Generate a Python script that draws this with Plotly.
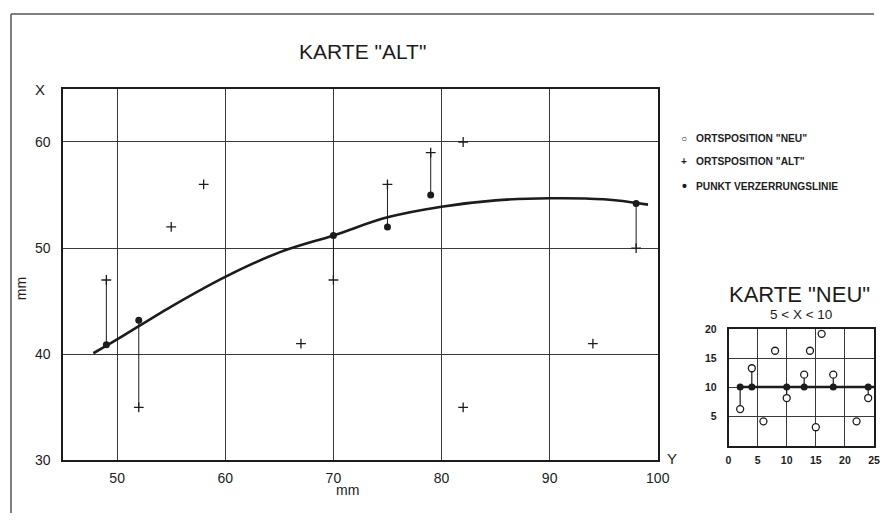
import plotly.graph_objects as go

# The page body keeps its default 8px margin, so the figure is sized to fill
# the 894x529 window exactly; layout positions below are window pixels.
WIN_W, WIN_H = 894, 529
PAD = 8
W, H = WIN_W - 2 * PAD, WIN_H - 2 * PAD

# ---------------- data: main chart "KARTE ALT" ----------------
curve_x = [47.8, 50, 55, 60, 65, 70, 75, 80, 85, 90, 95, 99.1]
curve_y = [40.1, 41.4, 44.5, 47.3, 49.6, 51.2, 52.9, 53.9, 54.5, 54.7, 54.6, 54.1]

alt_x = [49, 52, 55, 58, 67, 70, 75, 79, 82, 82, 94, 98]
alt_y = [47, 35, 52, 56, 41, 47, 56, 59, 60, 35, 41, 50]

dot_x = [49, 52, 70, 75, 79, 98]
dot_y = [40.9, 43.2, 51.2, 52.0, 55.0, 54.2]
dot_alt_y = [47, 35, 47, 56, 59, 50]   # linked "ALT" positions

x_ticks = [50, 60, 70, 80, 90, 100]
y_ticks = [30, 40, 50, 60]

# ---------------- data: inset "KARTE NEU" ----------------
neu_x = [2, 4, 6, 8, 10, 13, 14, 15, 16, 18, 22, 24]
neu_y = [6.3, 13.3, 4.2, 16.3, 8.2, 12.2, 16.3, 3.2, 19.2, 12.2, 4.2, 8.2]

ins_dot_x = [2, 4, 10, 13, 18, 24]
ins_dot_neu_y = [6.3, 13.3, 8.2, 12.2, 12.2, 8.2]
ins_line_level = 10.1
ins_line_x = [2, 25]

ins_x_ticks = [0, 5, 10, 15, 20, 25]
ins_y_ticks = [5, 10, 15, 20]

INK = "#1c1c1c"
GRID = "#3a3a3a"
FONT = "Liberation Sans, Arial, sans-serif"


def px(x):
    return (x - PAD) / W


def py(y):
    return 1 - (y - PAD) / H


fig = go.Figure()

# connectors main
cx, cy = [], []
for x, y0, y1 in zip(dot_x, dot_y, dot_alt_y):
    cx += [x, x, None]
    cy += [y0, y1, None]
fig.add_trace(go.Scatter(x=cx, y=cy, mode="lines", line=dict(color=INK, width=1),
                         showlegend=False, hoverinfo="skip"))
# curve
fig.add_trace(go.Scatter(x=curve_x, y=curve_y, mode="lines", line=dict(color=INK, width=2.6, shape="spline"),
                         showlegend=False))
# ALT positions
fig.add_trace(go.Scatter(x=alt_x, y=alt_y, mode="markers",
                         marker=dict(symbol="cross-thin", size=7, line=dict(color=INK, width=1.3)),
                         showlegend=False))
# dots
fig.add_trace(go.Scatter(x=dot_x, y=dot_y, mode="markers",
                         marker=dict(symbol="circle", size=7, color=INK),
                         showlegend=False))

# inset connectors
ix, iy = [], []
for x, y1 in zip(ins_dot_x, ins_dot_neu_y):
    ix += [x, x, None]
    iy += [ins_line_level, y1, None]
fig.add_trace(go.Scatter(x=ix, y=iy, mode="lines", line=dict(color=INK, width=1.2),
                         xaxis="x2", yaxis="y2", showlegend=False))
fig.add_trace(go.Scatter(x=ins_line_x, y=[ins_line_level] * 2, mode="lines",
                         line=dict(color=INK, width=2.4), xaxis="x2", yaxis="y2", showlegend=False))
fig.add_trace(go.Scatter(x=ins_dot_x, y=[ins_line_level] * len(ins_dot_x), mode="markers",
                         marker=dict(symbol="circle", size=7, color=INK),
                         xaxis="x2", yaxis="y2", showlegend=False))
fig.add_trace(go.Scatter(x=neu_x, y=neu_y, mode="markers",
                         marker=dict(symbol="circle", size=7, color="white", line=dict(color=INK, width=1.3)),
                         xaxis="x2", yaxis="y2", showlegend=False))

axis_common = dict(showgrid=True, gridcolor=GRID, gridwidth=1, showline=True, linecolor=INK,
                   linewidth=1.6, mirror=True, zeroline=False, ticks="", fixedrange=True)

fig.update_layout(
    width=W, height=H, autosize=False,
    margin=dict(l=0, r=0, t=0, b=0),
    paper_bgcolor="white", plot_bgcolor="white",
    showlegend=False,
    xaxis=dict(domain=[px(61), px(666)], range=[45, 100], tickvals=x_ticks,
               tickfont=dict(family=FONT, size=14, color=INK), ticklabelstandoff=4, **axis_common),
    yaxis=dict(domain=[py(467), py(85)], range=[30, 65], tickvals=y_ticks,
               tickfont=dict(family=FONT, size=14, color=INK), ticklabelstandoff=8, **axis_common),
    xaxis2=dict(domain=[px(738), px(886)], range=[0, 25], tickvals=ins_x_ticks, anchor="y2",
                tickfont=dict(family=FONT, size=10.5, color=INK, weight="bold"), ticklabelstandoff=4, **axis_common),
    yaxis2=dict(domain=[py(452), py(332)], range=[0, 20], tickvals=ins_y_ticks, anchor="x2",
                tickfont=dict(family=FONT, size=10.5, color=INK, weight="bold"), ticklabelstandoff=8, **axis_common),
)

ann = []


def txt(x, y, s, size, family=FONT, weight="normal", xanchor="center", angle=0):
    ann.append(dict(x=px(x), y=py(y), xref="paper", yref="paper", text=s, showarrow=False,
                    xanchor=xanchor, yanchor="middle", textangle=angle,
                    font=dict(family=family, size=size, color=INK, weight=weight)))


txt(366, 47, 'KARTE "ALT"', 21)
txt(38, 86, "X", 15)
txt(680, 465, "Y", 15)
txt(350, 497, "mm", 14)
txt(18, 290, "mm", 14, angle=-90)

txt(810, 296, 'KARTE "NEU"', 22)
txt(812, 317, "5 &lt; X &lt; 10", 13.5)

leg = [("○", 'ORTSPOSITION "NEU"', 136), ("+", 'ORTSPOSITION "ALT"', 160), ("•", "PUNKT VERZERRUNGSLINIE", 185)]
for sym, label, yy in leg:
    txt(693, yy, sym, 10 if sym != "•" else 14, weight="bold")
    txt(703, yy, label, 10.2, weight="bold", xanchor="left")

fig.update_layout(annotations=ann)

fig.update_layout(shapes=[
    dict(type="line", xref="paper", yref="paper", x0=0, x1=1.0, y0=1, y1=1,
         line=dict(color="#555", width=1.5)),
    dict(type="line", xref="paper", yref="paper", x0=0, x1=0, y0=1, y1=0,
         line=dict(color="#555", width=1.5)),
])

fig.write_html("out.html", config={"displayModeBar": False})
